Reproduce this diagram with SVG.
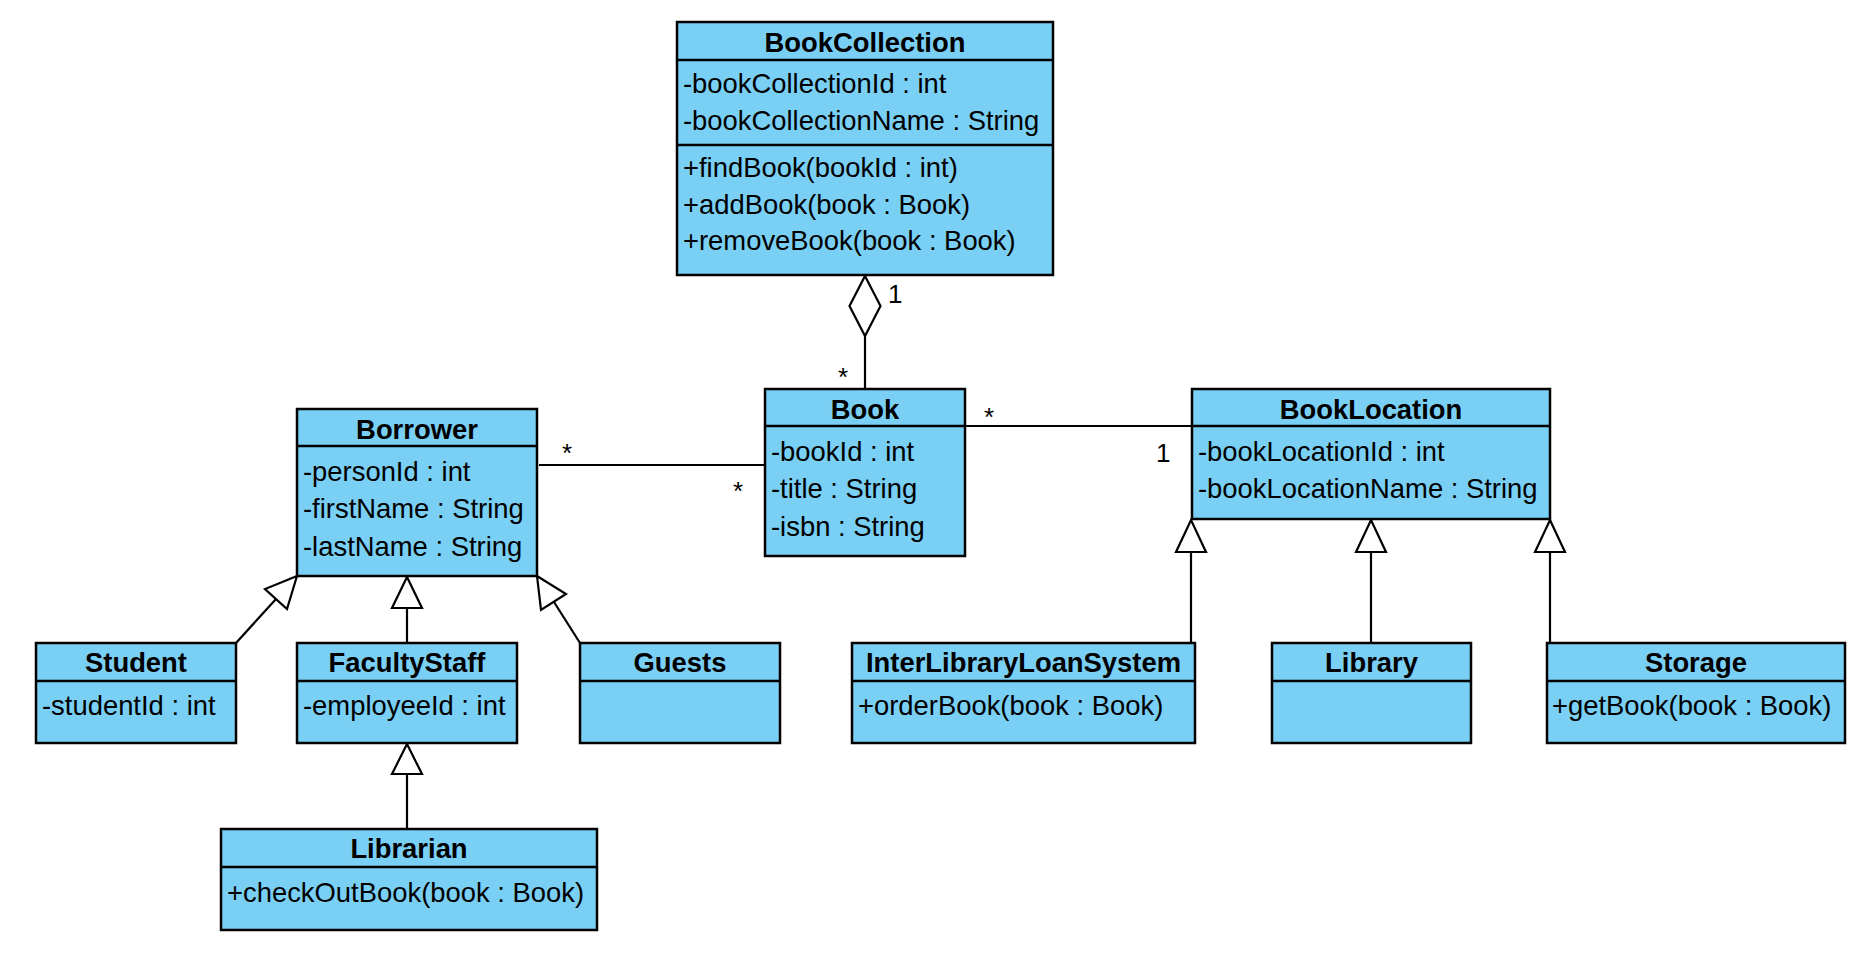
<svg xmlns="http://www.w3.org/2000/svg" width="1863" height="958" viewBox="0 0 1863 958">
<style>
.box{fill:#7acff5;stroke:#000;stroke-width:2.5}
.sep{stroke:#000;stroke-width:2.5}
.t{font-family:"Liberation Sans",Arial,sans-serif;font-size:27.4px;fill:#000}
.h{font-family:"Liberation Sans",Arial,sans-serif;font-size:27.4px;font-weight:bold;fill:#000;text-anchor:middle}
.lbl{font-family:"Liberation Sans",Arial,sans-serif;font-size:26px;fill:#000}
.ln{stroke:#000;stroke-width:2.2;fill:none}
.tri{fill:#fff;stroke:#000;stroke-width:2.2;stroke-linejoin:miter}
</style>
<rect width="1863" height="958" fill="#fff"/>
<g id="connectors">
  <polygon class="tri" points="865,276 880.5,306 865,336 849.5,306"/>
  <line class="ln" x1="865" y1="336" x2="865" y2="389"/>
  <line class="ln" x1="539" y1="465" x2="765" y2="465"/>
  <line class="ln" x1="965" y1="426" x2="1192" y2="426"/>
  <line class="ln" x1="236" y1="643" x2="276" y2="599"/>
  <polygon class="tri" points="297,576 265,589 287,609"/>
  <line class="ln" x1="580" y1="643" x2="554" y2="602"/>
  <polygon class="tri" points="537,576 566,594 541,610"/>
  <line class="ln" x1="407" y1="608" x2="407" y2="643"/>
  <polygon class="tri" points="407,577 422,608 392,608"/>
  <line class="ln" x1="407" y1="774" x2="407" y2="829"/>
  <polygon class="tri" points="407,744 422,774 392,774"/>
  <line class="ln" x1="1191" y1="552" x2="1191" y2="643"/>
  <polygon class="tri" points="1191,520 1206,552 1176,552"/>
  <line class="ln" x1="1371" y1="552" x2="1371" y2="643"/>
  <polygon class="tri" points="1371,520 1386,552 1356,552"/>
  <line class="ln" x1="1550" y1="552" x2="1550" y2="643"/>
  <polygon class="tri" points="1550,520 1565,552 1535,552"/>
  <text class="lbl" x="888" y="303">1</text>
  <text class="lbl" x="838" y="386">*</text>
  <text class="lbl" x="562" y="462">*</text>
  <text class="lbl" x="733" y="500">*</text>
  <text class="lbl" x="984" y="426">*</text>
  <text class="lbl" x="1156" y="462">1</text>
</g>
<g id="BookCollection">
  <rect class="box" x="677" y="22" width="376" height="253"/>
  <line class="sep" x1="677" y1="60" x2="1053" y2="60"/>
  <line class="sep" x1="677" y1="145" x2="1053" y2="145"/>
  <text class="h" x="865" y="51.5">BookCollection</text>
  <text class="t" x="683" y="93">-bookCollectionId : int</text>
  <text class="t" x="683" y="130">-bookCollectionName : String</text>
  <text class="t" x="683" y="177">+findBook(bookId : int)</text>
  <text class="t" x="683" y="213.5">+addBook(book : Book)</text>
  <text class="t" x="683" y="250">+removeBook(book : Book)</text>
</g>
<g id="Book">
  <rect class="box" x="765" y="389" width="200" height="167"/>
  <line class="sep" x1="765" y1="426" x2="965" y2="426"/>
  <text class="h" x="865" y="418.5">Book</text>
  <text class="t" x="771" y="460.5">-bookId : int</text>
  <text class="t" x="771" y="498">-title : String</text>
  <text class="t" x="771" y="535.5">-isbn : String</text>
</g>
<g id="Borrower">
  <rect class="box" x="297" y="409" width="240" height="167"/>
  <line class="sep" x1="297" y1="446" x2="537" y2="446"/>
  <text class="h" x="417" y="438.5">Borrower</text>
  <text class="t" x="303" y="480.5">-personId : int</text>
  <text class="t" x="303" y="518">-firstName : String</text>
  <text class="t" x="303" y="555.5">-lastName : String</text>
</g>
<g id="BookLocation">
  <rect class="box" x="1192" y="389" width="358" height="130"/>
  <line class="sep" x1="1192" y1="426" x2="1550" y2="426"/>
  <text class="h" x="1371" y="418.5">BookLocation</text>
  <text class="t" x="1198" y="461">-bookLocationId : int</text>
  <text class="t" x="1198" y="498">-bookLocationName : String</text>
</g>
<g id="Student">
  <rect class="box" x="36" y="643" width="200" height="100"/>
  <line class="sep" x1="36" y1="681" x2="236" y2="681"/>
  <text class="h" x="136" y="672">Student</text>
  <text class="t" x="42" y="715">-studentId : int</text>
</g>
<g id="FacultyStaff">
  <rect class="box" x="297" y="643" width="220" height="100"/>
  <line class="sep" x1="297" y1="681" x2="517" y2="681"/>
  <text class="h" x="407" y="672">FacultyStaff</text>
  <text class="t" x="303" y="715">-employeeId : int</text>
</g>
<g id="Guests">
  <rect class="box" x="580" y="643" width="200" height="100"/>
  <line class="sep" x1="580" y1="681" x2="780" y2="681"/>
  <text class="h" x="680" y="672">Guests</text>
</g>
<g id="InterLibraryLoanSystem">
  <rect class="box" x="852" y="643" width="343" height="100"/>
  <line class="sep" x1="852" y1="681" x2="1195" y2="681"/>
  <text class="h" x="1023.5" y="672">InterLibraryLoanSystem</text>
  <text class="t" x="858" y="715">+orderBook(book : Book)</text>
</g>
<g id="Library">
  <rect class="box" x="1272" y="643" width="199" height="100"/>
  <line class="sep" x1="1272" y1="681" x2="1471" y2="681"/>
  <text class="h" x="1371.5" y="672">Library</text>
</g>
<g id="Storage">
  <rect class="box" x="1547" y="643" width="298" height="100"/>
  <line class="sep" x1="1547" y1="681" x2="1845" y2="681"/>
  <text class="h" x="1696" y="672">Storage</text>
  <text class="t" x="1552" y="715">+getBook(book : Book)</text>
</g>
<g id="Librarian">
  <rect class="box" x="221" y="829" width="376" height="101"/>
  <line class="sep" x1="221" y1="867" x2="597" y2="867"/>
  <text class="h" x="409" y="858">Librarian</text>
  <text class="t" x="227" y="902">+checkOutBook(book : Book)</text>
</g>
</svg>
